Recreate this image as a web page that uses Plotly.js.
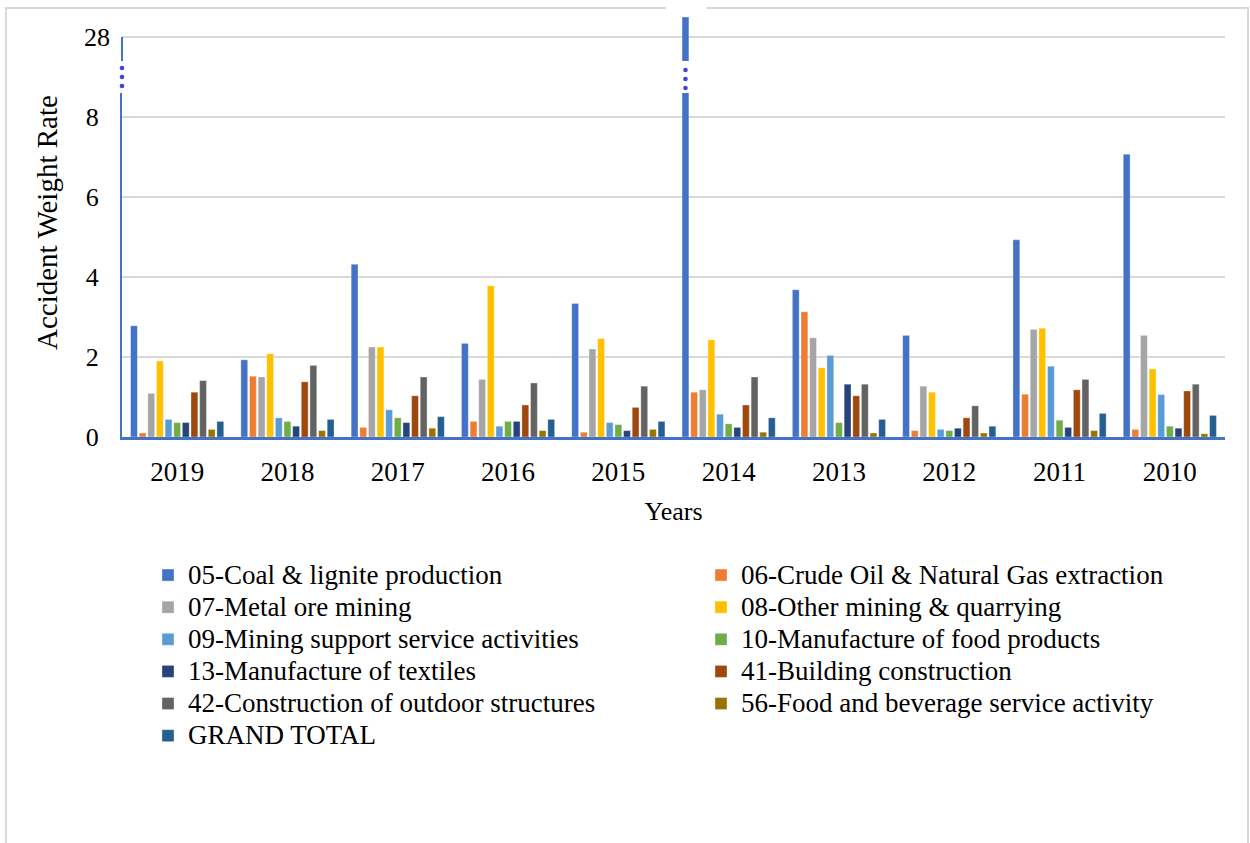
<!DOCTYPE html>
<html>
<head>
<meta charset="utf-8">
<script src="https://cdn.plot.ly/plotly-3.0.1.min.js"></script>
<style>
  html, body { margin: 0; padding: 0; background: #ffffff; }
  #wrap { position: relative; width: 1250px; height: 843px; overflow: hidden; }
  #chart { position: absolute; left: 0; top: 0; width: 1250px; height: 843px; }
  #frame { position: absolute; left: 5px; top: 7px; width: 1240px; height: 900px;
           border: 2px solid #d9d9d9; pointer-events: none; }
  #notch { position: absolute; left: 666px; top: 5px; width: 40px; height: 6px;
           background: #ffffff; pointer-events: none; }
</style>
</head>
<body>
<div id="wrap">
  <div id="chart"></div>
  <div id="frame"></div>
  <div id="notch"></div>
</div>
<script>
// Accident weight rate by economic activity, 2019 back to 2010
const years = ['2019', '2018', '2017', '2016', '2015', '2014', '2013', '2012', '2011', '2010'];

const coal       = [2.78, 1.93, 4.32, 2.34, 3.34, 28.5, 3.68, 2.54, 4.93, 7.07];
const crudeOil   = [0.10, 1.52, 0.24, 0.39, 0.12, 1.12, 3.13, 0.16, 1.07, 0.19];
const metalOre   = [1.09, 1.50, 2.25, 1.44, 2.20, 1.18, 2.48, 1.27, 2.69, 2.54];
const otherMining= [1.90, 2.08, 2.25, 3.78, 2.46, 2.43, 1.73, 1.12, 2.72, 1.70];
const miningSupport = [0.44, 0.48, 0.68, 0.27, 0.36, 0.57, 2.04, 0.19, 1.77, 1.06];
const foodProducts  = [0.36, 0.39, 0.48, 0.39, 0.31, 0.33, 0.36, 0.16, 0.42, 0.27];
const textiles      = [0.36, 0.27, 0.36, 0.39, 0.16, 0.24, 1.32, 0.22, 0.24, 0.22];
const building      = [1.12, 1.38, 1.03, 0.80, 0.74, 0.80, 1.03, 0.48, 1.18, 1.15];
const outdoor       = [1.41, 1.79, 1.50, 1.35, 1.27, 1.50, 1.32, 0.78, 1.44, 1.32];
const foodService   = [0.19, 0.16, 0.22, 0.16, 0.19, 0.12, 0.10, 0.10, 0.16, 0.08];
const grandTotal    = [0.39, 0.44, 0.51, 0.44, 0.39, 0.48, 0.44, 0.27, 0.59, 0.54];

const seriesNames = [
  '05-Coal & lignite production',
  '06-Crude Oil & Natural Gas extraction',
  '07-Metal ore mining',
  '08-Other mining & quarrying',
  '09-Mining support service activities',
  '10-Manufacture of food products',
  '13-Manufacture of textiles',
  '41-Building construction',
  '42-Construction of outdoor structures',
  '56-Food and beverage service activity',
  'GRAND TOTAL'
];
const seriesValues = [coal, crudeOil, metalOre, otherMining, miningSupport,
  foodProducts, textiles, building, outdoor, foodService, grandTotal];
const seriesColors = ['#4472C4', '#ED7D31', '#A5A5A5', '#FFC000', '#5B9BD5',
  '#70AD47', '#264478', '#9E480E', '#636363', '#997300', '#255E91'];

// y values above this are drawn in the upper (broken) segment
const BREAK_AT = 8.6;
// upper segment of the value axis
const UPPER_RANGE = [27.4, 28.55];
const UPPER_TICK = 28;

// bar geometry inside one category slot
const groupSpan = 0.861;
const slot = groupSpan / seriesNames.length;
const barW = 0.062;
const offsetOf = i => -groupSpan / 2 + i * slot + (slot - barW) / 2;

const FONT = 'Liberation Serif, Times New Roman, serif';
const BLUE = '#4472C4';
// legend labels are set a little larger than the row pitch font
const legendLabel = s => '<span style="font-size:27px">' + s + '</span>';

const traces = seriesNames.map((name, i) => ({
  type: 'bar',
  name: legendLabel(name),
  x: years,
  y: seriesValues[i],
  width: barW,
  offset: offsetOf(i),
  marker: { color: seriesColors[i], line: { width: 0.6, color: 'rgba(255,255,255,0.55)' } },
  xaxis: 'x',
  yaxis: 'y',
  hoverinfo: 'x+y'
}));

// upper segment of the broken axis: only the values that pass the break
traces.push({
  type: 'bar',
  name: legendLabel(seriesNames[0]),
  x: years,
  y: coal.map(v => (v > BREAK_AT ? v : null)),
  width: barW,
  offset: offsetOf(0),
  marker: { color: seriesColors[0], line: { width: 0.6, color: 'rgba(255,255,255,0.55)' } },
  xaxis: 'x',
  yaxis: 'y2',
  showlegend: false,
  hoverinfo: 'x+y'
});

// plot-area geometry (pixels)
const W = 1250, H = 843;
const mL = 122, mR = 25, mT = 15, mB = 406;
const plotH = H - mT - mB;
const plotW = W - mL - mR;
const pyToPaper = py => (H - mB - py) / plotH;
const pxToPaper = px => (px - mL) / plotW;

const lowerTop = 93, upperBottom = 61;
const upperDomain = [pyToPaper(upperBottom), 1];
// paper position of the 28 tick inside the upper segment
const upperTickPaper = upperDomain[0] +
  (UPPER_TICK - UPPER_RANGE[0]) / (UPPER_RANGE[1] - UPPER_RANGE[0]) * (upperDomain[1] - upperDomain[0]);

// break markers (three dots) on the value axis and on the tall bar
const dot = (xp, yp) => ({
  type: 'circle', xref: 'paper', yref: 'paper',
  xsizemode: 'pixel', ysizemode: 'pixel',
  xanchor: xp, yanchor: yp,
  x0: -2.3, x1: 2.3, y0: -2.3, y1: 2.3,
  fillcolor: '#3f45d8', line: { width: 0 }, layer: 'above'
});
const shapes = [
  // value-axis line of the upper segment, up to the 28 tick
  { type: 'line', xref: 'paper', yref: 'paper', x0: 0, x1: 0,
    y0: upperDomain[0], y1: upperTickPaper, line: { color: BLUE, width: 2 }, layer: 'above' }
];
[68, 77, 86].forEach(py => shapes.push(dot(0, pyToPaper(py))));
coal.forEach((v, i) => {
  if (v > BREAK_AT) {
    const xp = (i + 0.5 + offsetOf(0) + barW / 2) / years.length;
    [70, 79, 88].forEach(py => shapes.push(dot(xp, pyToPaper(py))));
  }
});

const layout = {
  width: W, height: H,
  margin: { l: mL, r: mR, t: mT, b: mB, autoexpand: false },
  paper_bgcolor: 'rgba(0,0,0,0)',
  plot_bgcolor: 'rgba(0,0,0,0)',
  font: { family: FONT, color: '#000000', size: 26 },
  barmode: 'overlay',
  showlegend: true,
  xaxis: {
    type: 'category',
    range: [-0.5, years.length - 0.5],
    showline: true, linecolor: BLUE, linewidth: 2.5,
    showgrid: false, zeroline: false,
    ticks: '', ticklabelstandoff: 9,
    tickfont: { family: FONT, size: 27, color: '#000' },
    title: { text: 'Years', standoff: 16, font: { family: FONT, size: 26, color: '#000' } },
    anchor: 'y'
  },
  yaxis: {
    domain: [0, pyToPaper(lowerTop)],
    range: [0, BREAK_AT],
    tickvals: [0, 2, 4, 6, 8],
    ticktext: ['0', '2', '4', '6', '8'],
    showline: true, linecolor: BLUE, linewidth: 2,
    showgrid: true, gridcolor: '#d9d9d9', gridwidth: 2,
    zeroline: false, ticks: '', ticklabelstandoff: 16,
    tickfont: { family: FONT, size: 26, color: '#000' }
  },
  yaxis2: {
    domain: upperDomain,
    range: UPPER_RANGE,
    tickvals: [UPPER_TICK],
    ticktext: [String(UPPER_TICK)],
    showline: false,
    showgrid: true, gridcolor: '#d9d9d9', gridwidth: 2,
    zeroline: false, ticks: '', ticklabelstandoff: 11,
    tickfont: { family: FONT, size: 26, color: '#000' },
    anchor: 'x'
  },
  legend: {
    orientation: 'h',
    x: pxToPaper(148), xanchor: 'left',
    y: pyToPaper(554), yanchor: 'top',
    entrywidth: 508, entrywidthmode: 'pixels',
    font: { family: FONT, size: 22.4, color: '#000' },
    bgcolor: 'rgba(0,0,0,0)', borderwidth: 0,
    traceorder: 'normal'
  },
  annotations: [{
    text: 'Accident Weight Rate',
    xref: 'paper', yref: 'paper',
    x: pxToPaper(47), y: pyToPaper(223),
    xanchor: 'center', yanchor: 'middle',
    textangle: -90, showarrow: false,
    font: { family: FONT, size: 29, color: '#000' }
  }],
  shapes: shapes
};

Plotly.newPlot('chart', traces, layout, { displayModeBar: false, staticPlot: true });
</script>
</body>
</html>
